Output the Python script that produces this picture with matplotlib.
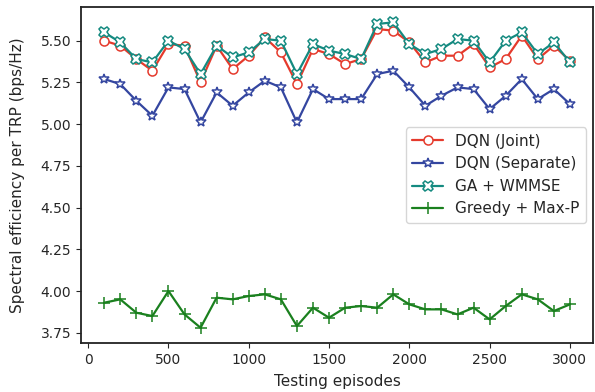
import matplotlib
matplotlib.use("Agg")
import matplotlib.pyplot as plt
import seaborn as sns
import numpy as np

episodes = np.arange(100, 3001, 100)

dqn_joint = [5.50, 5.47, 5.39, 5.32, 5.48, 5.47, 5.25, 5.47, 5.33, 5.41,
             5.52, 5.43, 5.24, 5.45, 5.42, 5.36, 5.39, 5.57, 5.56, 5.49,
             5.37, 5.41, 5.41, 5.48, 5.34, 5.39, 5.53, 5.39, 5.47, 5.38]
dqn_separate = [5.27, 5.24, 5.14, 5.05, 5.22, 5.21, 5.01, 5.19, 5.11, 5.19,
                5.26, 5.22, 5.01, 5.21, 5.15, 5.15, 5.15, 5.30, 5.32, 5.22,
                5.11, 5.17, 5.22, 5.21, 5.09, 5.17, 5.27, 5.15, 5.21, 5.12]
ga_wmmse = [5.55, 5.49, 5.39, 5.37, 5.50, 5.45, 5.30, 5.47, 5.40, 5.43,
            5.51, 5.50, 5.30, 5.48, 5.44, 5.42, 5.39, 5.60, 5.61, 5.48,
            5.42, 5.45, 5.51, 5.50, 5.37, 5.50, 5.55, 5.42, 5.49, 5.37]
greedy = [3.93, 3.95, 3.87, 3.85, 4.00, 3.86, 3.78, 3.96, 3.95, 3.97,
          3.98, 3.95, 3.79, 3.90, 3.84, 3.90, 3.91, 3.90, 3.98, 3.92,
          3.89, 3.89, 3.86, 3.90, 3.83, 3.91, 3.98, 3.95, 3.88, 3.92]

sns.set_style("ticks")

fig = plt.figure(figsize=(5.95, 3.92), dpi=100)
ax = fig.add_axes([0.136, 0.125, 0.861, 0.857])

# one line per scheme, hollow markers except the greedy baseline
ax.plot(episodes, dqn_joint, color="#e53a2c", marker="o", markersize=6.5,
        markerfacecolor="white", markeredgewidth=1.1, linewidth=1.6, label="DQN (Joint)")
ax.plot(episodes, dqn_separate, color="#3446a0", marker="*", markersize=7.5,
        markerfacecolor="white", markeredgewidth=1.1, linewidth=1.6, label="DQN (Separate)")
ax.plot(episodes, ga_wmmse, color="#148a80", marker="X", markersize=7.5,
        markerfacecolor="white", markeredgewidth=1.1, linewidth=1.6, label="GA + WMMSE")
ax.plot(episodes, greedy, color="#1a801e", marker="+", markersize=8,
        markeredgewidth=1.1, linewidth=1.6, label="Greedy + Max-P")

ax.set_xticks([0, 500, 1000, 1500, 2000, 2500, 3000])
ax.set_yticks([3.75, 4.00, 4.25, 4.50, 4.75, 5.00, 5.25, 5.50])
ax.tick_params(labelsize=10)
for s in ax.spines.values():
    s.set_color("#222222")
    s.set_linewidth(1.3)

ax.set_xlabel("Testing episodes", fontsize=11, labelpad=5)
ax.set_ylabel("Spectral efficiency per TRP (bps/Hz)", fontsize=11, labelpad=11)
ax.legend(loc="center right", fontsize=11, frameon=True)

fig.savefig("out.png", dpi=100)
